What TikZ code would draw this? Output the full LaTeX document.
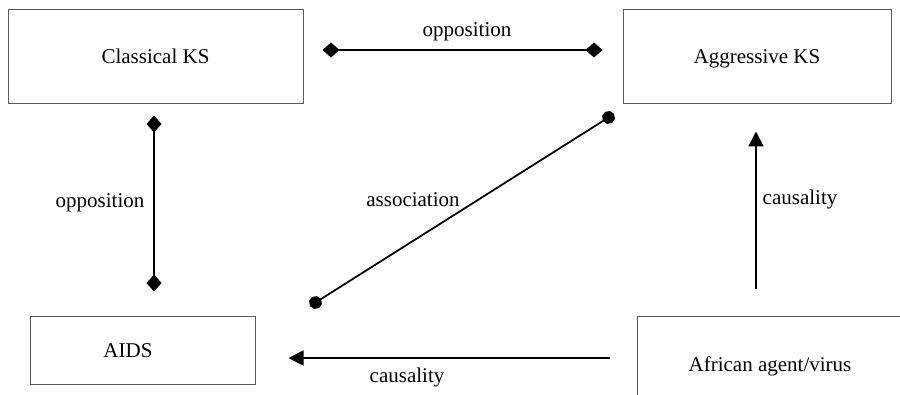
\documentclass[tikz,border=0pt]{standalone}
\usepackage{fontspec}
\setmainfont{Liberation Serif}
\usetikzlibrary{arrows.meta}
\begin{document}
\begin{tikzpicture}[x=1pt,y=-1pt,
  txt/.style={font=\fontsize{21}{25}\selectfont, inner sep=0pt},
  box/.style={txt, draw=black!65, line width=1pt, text height=14pt, text depth=0pt},
  conn/.style={line width=1.8pt, black},
  opp/.style={conn, {Diamond[length=17pt,width=15pt]}-{Diamond[length=17pt,width=15pt]}},
  asso/.style={conn, {Circle[length=13pt]}-{Circle[length=13pt]}},
  caus/.style={conn, -{Triangle[length=15pt,width=15pt]}},
  lbl/.style={txt, anchor=base}]
\useasboundingbox (0,0) rectangle (900,395);
\clip (0,0) rectangle (900,395);
\fill[white] (0,0) rectangle (900,395);
% boxes
\node[box, minimum width=295pt, minimum height=94pt] (ck) at (155.5,57) {Classical KS};
\node[box, minimum width=268pt, minimum height=94pt] (ak) at (757,57) {Aggressive KS};
\node[box, minimum width=225pt, minimum height=68pt] (aids) at (142.5,351) {AIDS\hspace*{29pt}};
\node[box, minimum width=266pt, minimum height=96pt] (af) at (770,365) {African agent/virus};
% association end points
\coordinate (as1) at (310,306);
\coordinate (as2) at (614,114);
% connectors
\draw[opp, shorten <=19pt, shorten >=20pt] ([yshift=7pt]ck.east) -- ([yshift=7pt]ak.west);
\draw[opp, shorten <=11pt, shorten >=25pt] ([xshift=-1.5pt]ck.south) -- ([xshift=11.5pt]aids.north);
\draw[asso] (as1) -- (as2);
\draw[caus, shorten <=27pt, shorten >=27pt] ([xshift=-14pt]af.north) -- ([xshift=-1pt]ak.south);
\draw[caus, shorten <=27pt, shorten >=33pt] ([yshift=7pt]af.west) -- ([yshift=-7pt]aids.east);
% labels
\node[lbl] (l1) at (467,37) {opposition};
\node[lbl] (l2) at (100,208) {opposition};
\node[lbl] (l3) at (413,207) {association};
\node[lbl] (l4) at (800,205) {causality};
\node[lbl] (l5) at (407,382) {causality};
\end{tikzpicture}
\end{document}
